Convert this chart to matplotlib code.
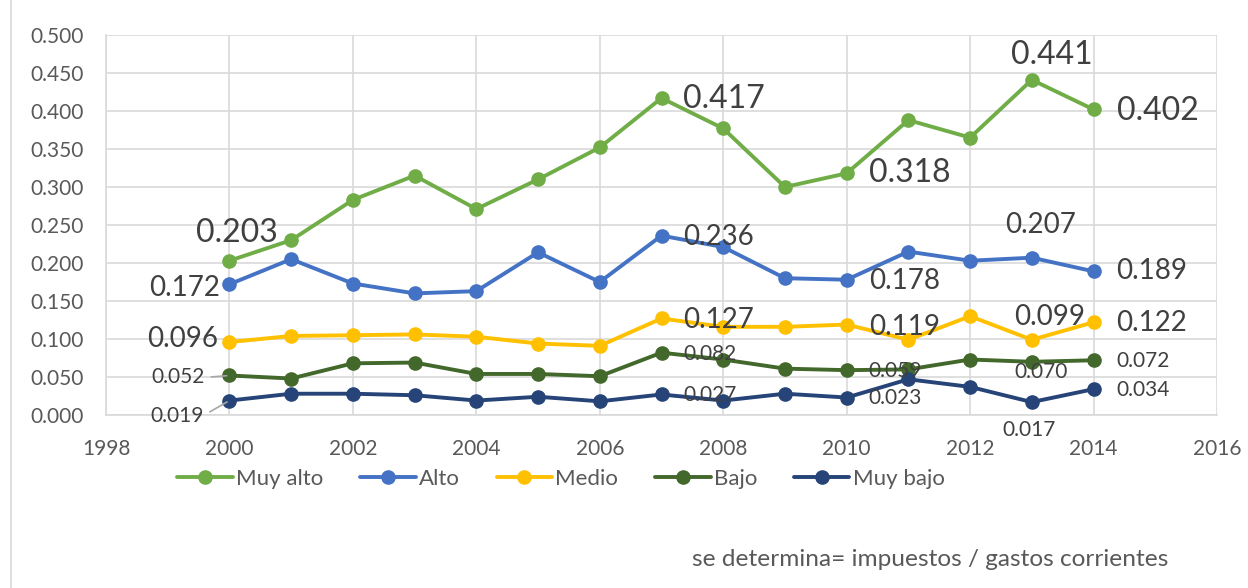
import matplotlib
matplotlib.use("Agg")
import matplotlib.pyplot as plt
from matplotlib.lines import Line2D

plt.rcParams['font.family'] = ['Lato', 'DejaVu Sans']

# Datos
years = list(range(2000, 2015))
muy_alto = [0.203, 0.230, 0.283, 0.315, 0.271, 0.310, 0.352, 0.417, 0.377, 0.300, 0.318, 0.388, 0.365, 0.441, 0.402]
alto = [0.172, 0.205, 0.173, 0.160, 0.163, 0.214, 0.175, 0.236, 0.221, 0.180, 0.178, 0.215, 0.203, 0.207, 0.189]
medio = [0.096, 0.104, 0.105, 0.106, 0.103, 0.094, 0.091, 0.127, 0.116, 0.116, 0.119, 0.099, 0.130, 0.099, 0.122]
bajo = [0.052, 0.048, 0.068, 0.069, 0.054, 0.054, 0.051, 0.082, 0.073, 0.061, 0.059, 0.060, 0.073, 0.070, 0.072]
muy_bajo = [0.019, 0.028, 0.028, 0.026, 0.019, 0.024, 0.018, 0.027, 0.019, 0.028, 0.023, 0.047, 0.037, 0.017, 0.034]

series = [
    ('Muy alto', muy_alto, '#70AD47'),
    ('Alto', alto, '#4472C4'),
    ('Medio', medio, '#FFC000'),
    ('Bajo', bajo, '#43682B'),
    ('Muy bajo', muy_bajo, '#264478'),
]

# años con etiqueta y tamaño de letra de cada serie
label_years = [2000, 2007, 2010, 2013, 2014]
label_size = {'Muy alto': 23, 'Alto': 20, 'Medio': 20, 'Bajo': 15, 'Muy bajo': 15}
# desplazamiento (px) y alineación de cada etiqueta
label_pos = {
    'Muy alto': [((7, 28), 'center'), ((22, -1), 'left'), ((22, 0), 'left'), ((20, 25), 'center'), ((23, -2), 'left')],
    'Alto': [((-9, -4), 'right'), ((22, -1), 'left'), ((22, -1), 'left'), ((9, 33), 'center'), ((23, 0), 'left')],
    'Medio': [((-11, 3), 'right'), ((22, -2), 'left'), ((22, -2), 'left'), ((18, 23), 'center'), ((23, -1), 'left')],
    'Bajo': [((-25, -2), 'right'), ((22, -1), 'left'), ((22, -1), 'left'), ((9, -10), 'center'), ((23, -1), 'left')],
    'Muy bajo': [((-26, -15), 'right'), ((22, -1), 'left'), ((22, 0), 'left'), ((-3, -28), 'center'), ((23, -1), 'left')],
}

fig = plt.figure(figsize=(12.48, 5.88), dpi=100)
ax = fig.add_axes([106 / 1248, 1 - 415 / 588, 1111 / 1248, 380 / 588])

for name, vals, color in series:
    ax.plot(years, vals, color=color, linewidth=2.8, marker='o', markersize=9.5,
            label=name, solid_capstyle='round', zorder=3)

for name, vals, color in series:
    for (off, ha), yr in zip(label_pos[name], label_years):
        v = vals[years.index(yr)]
        kw = {}
        if yr == 2000 and name in ('Bajo', 'Muy bajo'):
            kw['arrowprops'] = dict(arrowstyle='-', color='#A6A6A6', lw=1.2,
                                    shrinkA=3, shrinkB=2, relpos=(1, 0.5))
        ax.annotate(f'{v:.3f}', xy=(yr, v), xytext=off, textcoords='offset pixels',
                    ha=ha, va='center', fontsize=label_size[name], color='#404040',
                    zorder=5, **kw)

ax.set_xlim(1998, 2016)
ax.set_ylim(0, 0.5)
ax.set_xticks(range(1998, 2017, 2))
ax.set_yticks([i * 0.05 for i in range(11)])
ax.set_yticklabels([f'{i * 0.05:.3f}' for i in range(11)])
ax.tick_params(axis='both', length=0, labelsize=15, labelcolor='#595959')
ax.tick_params(axis='y', pad=16)
ax.tick_params(axis='x', pad=17)
ax.grid(True, color='#D9D9D9', linewidth=1.2, zorder=0)
ax.set_axisbelow(True)
for s in ['top', 'right']:
    ax.spines[s].set_visible(False)
for s in ['left', 'bottom']:
    ax.spines[s].set_color('#D9D9D9')
    ax.spines[s].set_linewidth(1.2)

fig.legend(loc='center', bbox_to_anchor=(561 / 1248, 1 - 479 / 588), ncol=5,
           frameon=False, fontsize=16, labelcolor='#595959', handlelength=2.5,
           handletextpad=0.15, columnspacing=1.65)

fig.text(692 / 1248, 1 - 560 / 588, 'se determina= impuestos / gastos corrientes',
         fontsize=17.6, color='#595959', ha='left', va='center')

# borde del área del gráfico
fig.add_artist(Line2D([11 / 1248, 11 / 1248], [0, 1], color='#D9D9D9', linewidth=1.2))

fig.savefig('out.png', dpi=100)
